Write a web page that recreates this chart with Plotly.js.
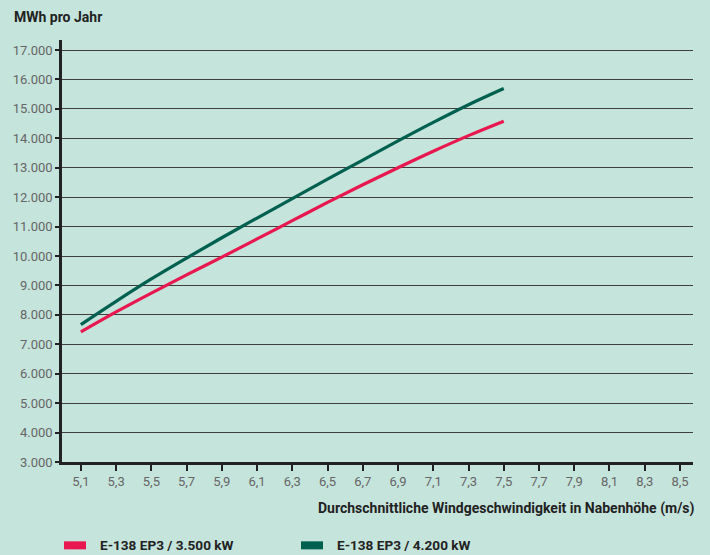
<!DOCTYPE html>
<html>
<head>
<meta charset="utf-8">
<script src="https://cdn.plot.ly/plotly-3.0.1.min.js"></script>
<style>html,body{margin:0;padding:0;background:#c5e4dc;}#chart{width:710px;height:555px;}</style>
</head>
<body>
<div id="chart"></div>
<script>
const windSpeed = [5.1, 5.3, 5.5, 5.7, 5.9, 6.1, 6.3, 6.5, 6.7, 6.9, 7.1, 7.3, 7.5];
const e138_3500 = [7420, 8100, 8740, 9360, 9960, 10580, 11200, 11820, 12420, 13000, 13560, 14090, 14580];
const e138_4200 = [7670, 8460, 9220, 9930, 10620, 11290, 11950, 12610, 13260, 13910, 14540, 15140, 15690];
const seriesNames = ["E-138 EP3 / 3.500 kW", "E-138 EP3 / 4.200 kW"];
const seriesColors = ["#e8174f", "#00604f"];
const yTitle = "MWh pro Jahr";
const xTitle = "Durchschnittliche Windgeschwindigkeit in Nabenhöhe (m/s)";

const boldFont = {family: "Liberation Sans Narrow, Roboto, Arial", size: 14, color: "#222"};
const legendFont = {family: "Liberation Sans Narrow, Roboto, Arial", size: 13.6, color: "#222"};

const traces = [
  {x: windSpeed, y: e138_3500, name: seriesNames[0], type: "scatter", mode: "lines",
   line: {color: seriesColors[0], width: 3.2, shape: "spline"}, showlegend: false},
  {x: windSpeed, y: e138_4200, name: seriesNames[1], type: "scatter", mode: "lines",
   line: {color: seriesColors[1], width: 3.2, shape: "spline"}, showlegend: false}
];

const layout = {
  width: 710, height: 555,
  paper_bgcolor: "#c5e4dc", plot_bgcolor: "#c5e4dc",
  separators: ",.",
  margin: {l: 62, r: 17, t: 40, b: 93},
  font: {family: "Roboto, Arial", size: 13, color: "#666"},
  xaxis: {
    range: [4.993, 8.574], tick0: 5.1, dtick: 0.2, tickformat: ".1f",
    showgrid: false, zeroline: false,
    showline: true, linecolor: "#222", linewidth: 2.5,
    ticks: "outside", ticklen: 6, tickwidth: 2, tickcolor: "#222",
    tickfont: {family: "Roboto, Arial", size: 13, color: "#666"}
  },
  yaxis: {
    range: [3000, 17340], tick0: 3000, dtick: 1000, tickformat: ",d",
    showgrid: true, gridcolor: "#3e3e3e", gridwidth: 1.4, zeroline: false,
    showline: true, linecolor: "#222", linewidth: 2.5,
    ticks: "outside", ticklen: 4, tickwidth: 2, tickcolor: "#222",
    tickfont: {family: "Roboto, Arial", size: 13, color: "#666"}
  },
  annotations: [
    {text: "<b>" + yTitle + "</b>", xref: "paper", yref: "paper", x: -0.0800, y: 1.0546,
     xanchor: "left", yanchor: "middle", showarrow: false, font: boldFont},
    {text: "<b>" + xTitle + "</b>", xref: "paper", yref: "paper", x: 1.0063, y: -0.1098,
     xanchor: "right", yanchor: "middle", showarrow: false, font: boldFont},
    {text: "<b>" + seriesNames[0] + "</b>", xref: "paper", yref: "paper", x: 0.057, y: -0.1955,
     xanchor: "left", yanchor: "middle", showarrow: false, font: legendFont},
    {text: "<b>" + seriesNames[1] + "</b>", xref: "paper", yref: "paper", x: 0.4326, y: -0.1955,
     xanchor: "left", yanchor: "middle", showarrow: false, font: legendFont}
  ],
  shapes: [
    {type: "rect", xref: "paper", yref: "paper", x0: 0.0032, x1: 0.038, y0: -0.1880, y1: -0.2070,
     fillcolor: seriesColors[0], line: {width: 0}},
    {type: "rect", xref: "paper", yref: "paper", x0: 0.3788, x1: 0.4136, y0: -0.1880, y1: -0.2070,
     fillcolor: seriesColors[1], line: {width: 0}}
  ]
};

Plotly.newPlot("chart", traces, layout, {displayModeBar: false, responsive: false});
</script>
</body>
</html>
